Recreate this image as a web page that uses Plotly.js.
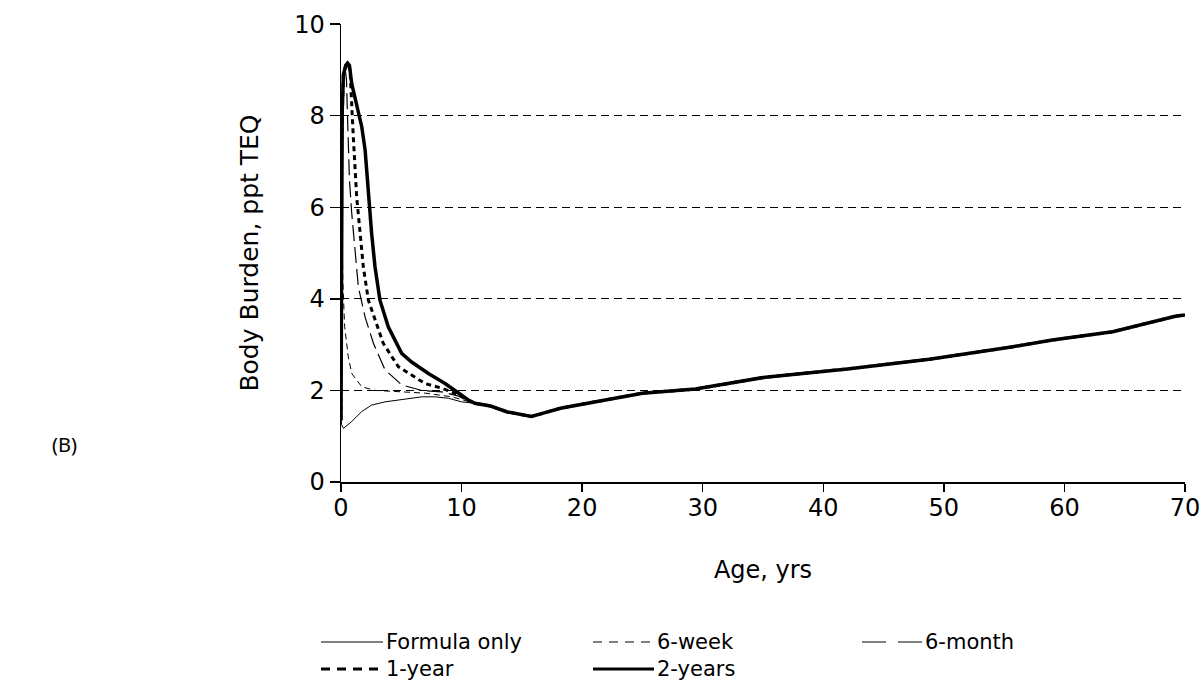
<!DOCTYPE html>
<html>
<head>
<meta charset="utf-8">
<script src="https://cdn.plot.ly/plotly-3.0.1.min.js"></script>
<style>html,body{margin:0;padding:0;background:#fff;}#chart{width:1204px;height:684px;}</style>
</head>
<body>
<div id="chart"></div>
<script>
// Shared long-term tail (all scenarios converge after ~11 yrs)
var tailAge = [11.1, 12.4, 13.8, 15.0, 15.8, 17.0, 18.2, 20.0, 22.0, 25.0, 29.4, 35.2, 42.0, 48.8, 55.6, 59.0, 64.0, 67.4, 69.2, 70.0];
var tailVal = [1.72, 1.66, 1.53, 1.47, 1.43, 1.52, 1.61, 1.70, 1.80, 1.94, 2.03, 2.29, 2.47, 2.68, 2.95, 3.10, 3.28, 3.50, 3.62, 3.65];

var formulaAge = [0, 0.05, 0.2, 0.5, 0.89, 1.72, 2.54, 3.65, 5.03, 6.7, 7.8, 8.9, 10.0];
var formulaVal = [1.45, 1.25, 1.17, 1.24, 1.32, 1.54, 1.68, 1.75, 1.80, 1.86, 1.86, 1.83, 1.75];

var week6Age = [0, 0.02, 0.08, 0.15, 0.3, 0.6, 0.89, 1.72, 2.82, 5.0, 7.0, 9.2, 10.6];
var week6Val = [1.35, 5.6, 5.9, 4.4, 3.4, 2.74, 2.37, 2.08, 2.0, 1.97, 1.94, 1.86, 1.75];

var month6Age = [0, 0.03, 0.1, 0.2, 0.35, 0.45, 0.55, 0.7, 0.89, 1.16, 1.44, 2.0, 2.69, 3.65, 5.03, 6.7, 8.35, 10.0];
var month6Val = [1.35, 6.75, 8.0, 8.85, 9.0, 8.8, 7.9, 6.6, 5.87, 5.07, 4.26, 3.6, 3.03, 2.45, 2.12, 2.0, 1.97, 1.86];

var year1Age = [0, 0.03, 0.1, 0.2, 0.4, 0.55, 0.75, 0.89, 1.02, 1.3, 1.44, 1.85, 2.27, 2.82, 3.5, 4.75, 5.86, 6.97, 8.35, 9.45, 10.6];
var year1Val = [1.35, 6.75, 8.0, 8.9, 9.1, 9.14, 9.0, 8.2, 7.54, 6.23, 5.87, 4.70, 3.97, 3.54, 3.03, 2.52, 2.34, 2.15, 2.05, 1.94, 1.78];

var year2Age = [0, 0.03, 0.1, 0.2, 0.4, 0.55, 0.7, 0.89, 1.3, 1.72, 2.0, 2.27, 2.54, 2.82, 3.23, 3.92, 5.03, 5.86, 7.25, 8.63, 9.45, 10.56];
var year2Val = [1.35, 6.75, 8.1, 8.9, 9.1, 9.15, 9.1, 8.7, 8.2, 7.76, 7.25, 6.3, 5.43, 4.70, 3.97, 3.39, 2.81, 2.62, 2.37, 2.15, 2.0, 1.79];

var names = ['Formula only', '6-week', '6-month', '1-year', '2-years'];

var F = 'DejaVu Sans, Arial, sans-serif';
var FS = 24;
var LFS = 21;

// plot area in pixels
var L = 341, R = 19, T = 24, B = 202, W = 1204, H = 684;
var PW = W - L - R, PH = H - T - B;
function px(x) { return (x - L) / PW; }
function py(y) { return (H - B - y) / PH; }

var styles = [
  {width: 1, dash: 'solid', legDash: 'solid'},
  {width: 1, dash: '6px,4px', legDash: '9px,7px'},
  {width: 1.2, dash: '16px,6px', legDash: '24px,12px'},
  {width: 3, dash: '5px,4px', legDash: '9px,7px'},
  {width: 3.5, dash: 'solid', legDash: 'solid'}
];
var series = [
  [formulaAge, formulaVal],
  [week6Age, week6Val],
  [month6Age, month6Val],
  [year1Age, year1Val],
  [year2Age, year2Val]
];

var traces = series.map(function (s, i) {
  return {
    x: s[0].concat(tailAge), y: s[1].concat(tailVal), name: names[i],
    type: 'scatter', mode: 'lines', showlegend: false,
    line: {color: '#000', width: styles[i].width, dash: styles[i].dash}
  };
});

// legend layout (sample line start/end, row y) in pixels
var legPos = [
  {x0: 321, x1: 383, y: 642},
  {x0: 593, x1: 654, y: 642},
  {x0: 862, x1: 922, y: 642},
  {x0: 321, x1: 383, y: 669},
  {x0: 593, x1: 654, y: 669}
];
var shapes = [], annotations = [];
legPos.forEach(function (p, i) {
  shapes.push({type: 'line', xref: 'paper', yref: 'paper',
    x0: px(p.x0), x1: px(p.x1), y0: py(p.y), y1: py(p.y),
    line: {color: '#000', width: Math.min(styles[i].width, 3), dash: styles[i].legDash}});
  annotations.push({text: names[i], xref: 'paper', yref: 'paper',
    x: px(p.x1 + 2), y: py(p.y), xanchor: 'left', yanchor: 'middle',
    showarrow: false, borderpad: 0, font: {family: F, size: LFS, color: '#000'}});
});
annotations.push({
  text: '(B)', xref: 'paper', yref: 'paper', x: px(50), y: py(444),
  xanchor: 'left', yanchor: 'middle', showarrow: false,
  font: {family: 'Noto Sans, sans-serif', size: 20, color: '#000'}
});

var layout = {
  width: W, height: H,
  margin: {l: L, r: R, t: T, b: B},
  paper_bgcolor: '#fff', plot_bgcolor: '#fff',
  font: {family: F, size: FS, color: '#000'},
  showlegend: false,
  xaxis: {
    range: [0, 70], dtick: 10, tick0: 0,
    showline: true, linecolor: '#000', linewidth: 1.5,
    ticks: 'outside', ticklen: 8, tickwidth: 1.5, tickcolor: '#000',
    ticklabelstandoff: -4,
    showgrid: false, zeroline: false,
    tickfont: {family: F, size: FS},
    title: {text: 'Age, yrs', font: {family: F, size: FS}, standoff: 40}
  },
  yaxis: {
    range: [0, 10.003], dtick: 2, tick0: 0,
    showline: true, linecolor: '#000', linewidth: 1.5,
    ticks: 'outside', ticklen: 10, tickwidth: 1.5, tickcolor: '#000',
    showgrid: true, gridcolor: '#000', gridwidth: 1, griddash: '8px,5px',
    zeroline: false,
    tickfont: {family: F, size: FS},
    title: {text: 'Body Burden, ppt TEQ', font: {family: F, size: 25}, standoff: 28}
  },
  shapes: shapes,
  annotations: annotations
};

Plotly.newPlot('chart', traces, layout, {displayModeBar: false, staticPlot: true});
</script>
</body>
</html>
